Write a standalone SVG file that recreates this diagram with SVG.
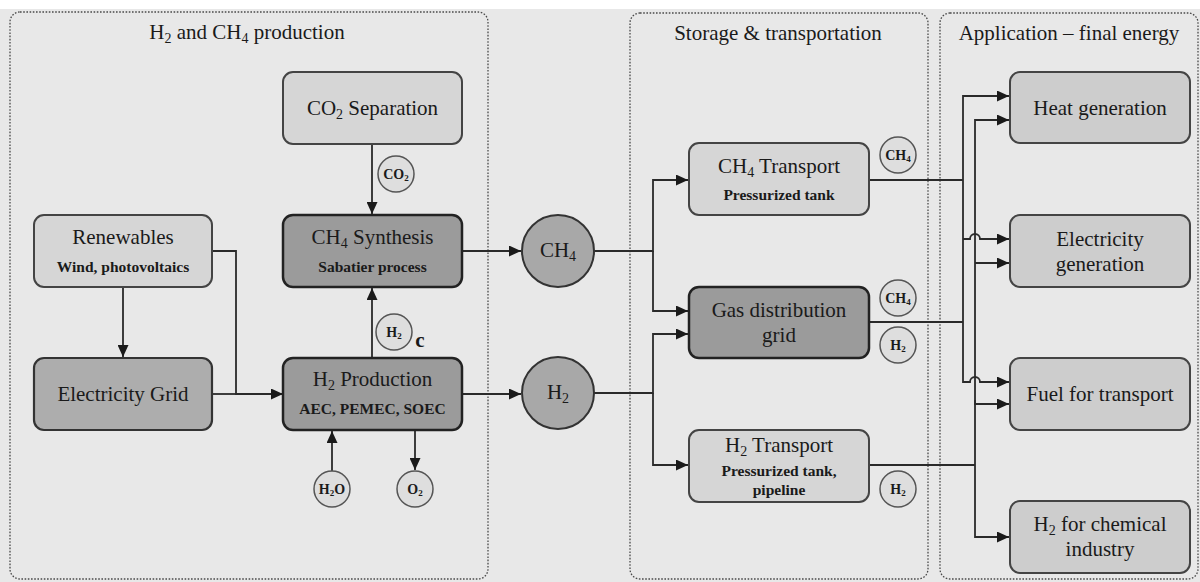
<svg xmlns="http://www.w3.org/2000/svg" width="1200" height="582" viewBox="0 0 1200 582">
<defs>
<marker id="arr" viewBox="0 0 12 11" refX="12" refY="5.5" markerWidth="12" markerHeight="11" markerUnits="userSpaceOnUse" orient="auto">
<path d="M0,0 L12,5.5 L0,11 z" fill="#1a1a1a"/>
</marker>
<style>
.panel{fill:none;stroke:#4a4a4a;stroke-width:1.3;stroke-dasharray:1.6 1.6}
.light{fill:#d6d6d6;stroke:#444;stroke-width:2}
.app{fill:#cdcdcd;stroke:#444;stroke-width:2}
.mid{fill:#adadad;stroke:#333;stroke-width:2.2}
.dark{fill:#9b9b9b;stroke:#222;stroke-width:2.5}
.big{fill:#a8a8a8;stroke:#333;stroke-width:2}
.small{fill:#dedede;stroke:#555;stroke-width:1.5}
.ln{fill:none;stroke:#2a2a2a;stroke-width:1.8}
.arw{fill:none;stroke:#2a2a2a;stroke-width:1.8;marker-end:url(#arr)}
text{font-family:"Liberation Serif","Times New Roman",serif;fill:#1a1a1a;text-anchor:middle}
.hd{font-size:21px}
.t{font-size:21px}
.s{font-size:15.5px;font-weight:bold}
.c{font-size:14px;font-weight:bold}
</style>
</defs>
<rect x="0" y="0" width="1200" height="582" fill="#ffffff"/>
<rect x="0" y="9" width="1200" height="573" fill="#e8e8e8"/>
<g id="panels">
<rect class="panel" x="10" y="12" width="478" height="567" rx="10"/>
<rect class="panel" x="630" y="13" width="298" height="566" rx="10"/>
<rect class="panel" x="940" y="13" width="258" height="566" rx="10"/>
<text class="hd" x="247" y="39">H<tspan font-size="14" dy="4">2</tspan><tspan dy="-4"> and CH</tspan><tspan font-size="14" dy="4">4</tspan><tspan dy="-4"> production</tspan></text>
<text class="hd" x="778" y="40">Storage &amp; transportation</text>
<text class="hd" x="1069" y="40">Application – final energy</text>
</g>
<g id="connectors">
<path class="arw" d="M372,144 V214"/>
<path class="arw" d="M123,287 V357"/>
<path class="arw" d="M212,251 H236 V394 H283"/>
<path class="ln" d="M212,394 H236"/>
<path class="arw" d="M372,358 V288"/>
<path class="arw" d="M332,471 V431"/>
<path class="arw" d="M415,430 V470"/>
<path class="arw" d="M462,251 H521"/>
<path class="arw" d="M462,394 H521"/>
<path class="arw" d="M594,251 H653 V180 H688"/>
<path class="arw" d="M653,251 V311 H688"/>
<path class="arw" d="M594,393 H653 V334 H688"/>
<path class="arw" d="M653,393 V465 H688"/>
<path class="ln" d="M869,180 H963"/>
<path class="ln" d="M869,322 H963"/>
<path class="ln" d="M869,465 H975"/>
<path class="arw" d="M963,239 V96 H1009"/>
<path class="arw" d="M963,239 H970 A5,5 0 0 1 980,239 H1009"/>
<path class="arw" d="M963,239 V382 H970 A5,5 0 0 1 980,382 H1009"/>
<path class="arw" d="M975,300 V120 H1009"/>
<path class="arw" d="M975,263 H1009"/>
<path class="arw" d="M975,300 V404 H1009"/>
<path class="arw" d="M975,400 V537 H1009"/>
</g>
<g id="co2sep">
<rect class="light" x="283" y="72" width="179" height="72" rx="10"/>
<text class="t" x="372.5" y="115">CO<tspan font-size="14" dy="4">2</tspan><tspan dy="-4"> Separation</tspan></text>
</g>
<g id="co2circle">
<circle class="small" cx="396" cy="174" r="18"/>
<text class="c" x="396" y="179">CO<tspan font-size="9" dy="2">2</tspan></text>
</g>
<g id="ch4synth">
<rect class="dark" x="283" y="215" width="179" height="72" rx="10"/>
<text class="t" x="372.5" y="244">CH<tspan font-size="14" dy="4">4</tspan><tspan dy="-4"> Synthesis</tspan></text>
<text class="s" x="372.5" y="272">Sabatier process</text>
</g>
<g id="renewables">
<rect class="light" x="34" y="215" width="178" height="72" rx="10"/>
<text class="t" x="123" y="244">Renewables</text>
<text class="s" x="123" y="272">Wind, photovoltaics</text>
</g>
<g id="elecgrid">
<rect class="mid" x="34" y="358" width="178" height="72" rx="10"/>
<text class="t" x="123" y="401">Electricity Grid</text>
</g>
<g id="h2prod">
<rect class="dark" x="283" y="358" width="179" height="72" rx="10"/>
<text class="t" x="372.5" y="386">H<tspan font-size="14" dy="4">2</tspan><tspan dy="-4"> Production</tspan></text>
<text class="s" x="372.5" y="414">AEC, PEMEC, SOEC</text>
</g>
<g id="h2circle">
<circle class="small" cx="394" cy="332" r="18"/>
<text class="c" x="394" y="337">H<tspan font-size="9" dy="2">2</tspan></text>
<text class="t" x="420" y="347" font-size="18" font-weight="bold">c</text>
</g>
<g id="h2ocircle">
<circle class="small" cx="332" cy="489" r="18"/>
<text class="c" x="332" y="494">H<tspan font-size="9" dy="2">2</tspan><tspan dy="-2">O</tspan></text>
</g>
<g id="o2circle">
<circle class="small" cx="415" cy="489" r="18"/>
<text class="c" x="415" y="494">O<tspan font-size="9" dy="2">2</tspan></text>
</g>
<g id="ch4big">
<circle class="big" cx="558" cy="251" r="36"/>
<text class="t" x="558" y="257">CH<tspan font-size="14" dy="4">4</tspan></text>
</g>
<g id="h2big">
<circle class="big" cx="558" cy="393" r="36"/>
<text class="t" x="558" y="399">H<tspan font-size="14" dy="4">2</tspan></text>
</g>
<g id="ch4transport">
<rect class="light" x="689" y="143" width="180" height="72" rx="10"/>
<text class="t" x="779" y="173">CH<tspan font-size="14" dy="4">4</tspan><tspan dy="-4"> Transport</tspan></text>
<text class="s" x="779" y="200">Pressurized tank</text>
</g>
<g id="gasgrid">
<rect class="dark" x="689" y="287" width="180" height="71" rx="10"/>
<text class="t" x="779" y="317">Gas distribution</text>
<text class="t" x="779" y="342">grid</text>
</g>
<g id="h2transport">
<rect class="light" x="689" y="430" width="180" height="72" rx="10"/>
<text class="t" x="779" y="452">H<tspan font-size="14" dy="4">2</tspan><tspan dy="-4"> Transport</tspan></text>
<text class="s" x="779" y="476">Pressurized tank,</text>
<text class="s" x="779" y="495">pipeline</text>
</g>
<g id="ch4c1">
<circle class="small" cx="898" cy="155" r="18"/>
<text class="c" x="898" y="160">CH<tspan font-size="9" dy="2">4</tspan></text>
</g>
<g id="ch4c2">
<circle class="small" cx="898" cy="298" r="18"/>
<text class="c" x="898" y="303">CH<tspan font-size="9" dy="2">4</tspan></text>
</g>
<g id="h2c1">
<circle class="small" cx="898" cy="345" r="18"/>
<text class="c" x="898" y="350">H<tspan font-size="9" dy="2">2</tspan></text>
</g>
<g id="h2c2">
<circle class="small" cx="898" cy="489" r="18"/>
<text class="c" x="898" y="494">H<tspan font-size="9" dy="2">2</tspan></text>
</g>
<g id="heat">
<rect class="app" x="1010" y="72" width="180" height="71" rx="10"/>
<text class="t" x="1100" y="115">Heat generation</text>
</g>
<g id="elecgen">
<rect class="app" x="1010" y="215" width="180" height="72" rx="10"/>
<text class="t" x="1100" y="246">Electricity</text>
<text class="t" x="1100" y="271">generation</text>
</g>
<g id="fuel">
<rect class="app" x="1010" y="358" width="180" height="72" rx="10"/>
<text class="t" x="1100" y="401">Fuel for transport</text>
</g>
<g id="h2chem">
<rect class="app" x="1010" y="501" width="180" height="72" rx="10"/>
<text class="t" x="1100" y="531">H<tspan font-size="14" dy="4">2</tspan><tspan dy="-4"> for chemical</tspan></text>
<text class="t" x="1100" y="556">industry</text>
</g>
</svg>
